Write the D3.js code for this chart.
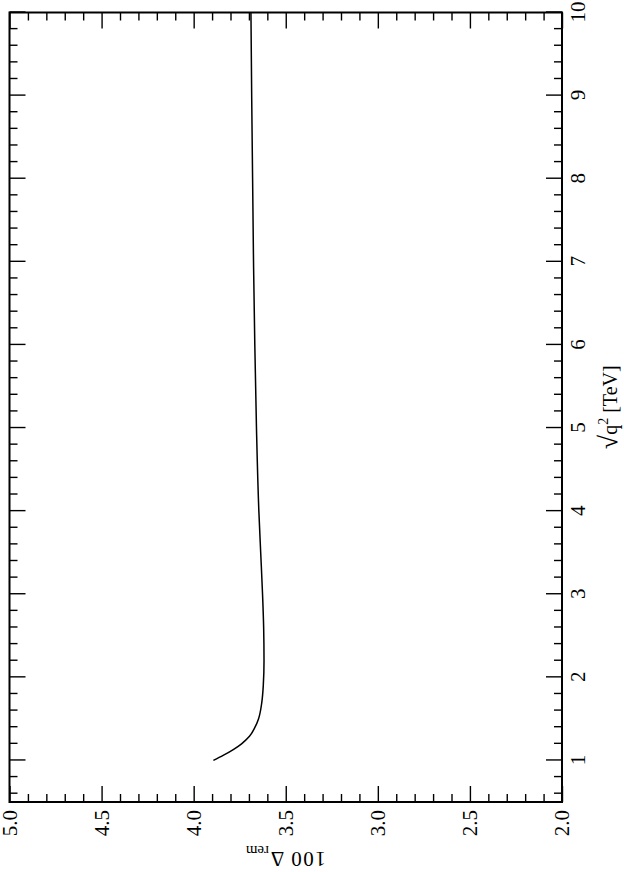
<!DOCTYPE html>
<html>
<head>
<meta charset="utf-8">
<script src="https://cdn.jsdelivr.net/npm/d3@7"></script>
<style>
  body { margin: 0; background: white; }
  text { font-family: "Liberation Serif", "DejaVu Serif", serif; }
</style>
</head>
<body>
<div id="chart-area"></div>
<script>
// Data: sqrt(q^2) in TeV and 100*Delta_rem
const sqrtQ2 = [1.0, 1.06, 1.13, 1.2, 1.29, 1.4, 1.5, 1.7, 1.9, 2.2, 2.6, 3.0, 3.5, 4.0, 5.0, 6.0, 7.0, 8.0, 9.0, 10.0];
const deltaRem = [3.893, 3.84, 3.785, 3.74, 3.697, 3.667, 3.648, 3.630, 3.622, 3.618, 3.620, 3.626, 3.636, 3.646, 3.659, 3.668, 3.675, 3.680, 3.685, 3.689];

// Tick values
const xMajor = [1, 2, 3, 4, 5, 6, 7, 8, 9, 10];
const xMinor = [0.6, 0.8, 1.2, 1.4, 1.6, 1.8, 2.2, 2.4, 2.6, 2.8, 3.2, 3.4, 3.6, 3.8, 4.2, 4.4, 4.6, 4.8,
  5.2, 5.4, 5.6, 5.8, 6.2, 6.4, 6.6, 6.8, 7.2, 7.4, 7.6, 7.8, 8.2, 8.4, 8.6, 8.8, 9.2, 9.4, 9.6, 9.8];
const yMajor = [2.0, 2.5, 3.0, 3.5, 4.0, 4.5, 5.0];
const yMinor = [2.1, 2.2, 2.3, 2.4, 2.6, 2.7, 2.8, 2.9, 3.1, 3.2, 3.3, 3.4, 3.6, 3.7, 3.8, 3.9,
  4.1, 4.2, 4.3, 4.4, 4.6, 4.7, 4.8, 4.9];

// Page size
const pageW = 624;
const pageH = 872;

// The plot is drawn landscape and then turned by -90 degrees
const W = 789.5;   // length of the sqrt(q^2) axis
const H = 552.5;   // length of the Delta axis

const svg = d3.select("#chart-area")
  .append("svg")
  .attr("width", pageW)
  .attr("height", pageH);

svg.append("rect")
  .attr("width", "100%")
  .attr("height", "100%")
  .attr("fill", "white");

const g = svg.append("g")
  .attr("transform", "translate(9.5,802) rotate(-90)");

// Scales
const x = d3.scaleLinear().domain([0.5, 10]).range([0, W]);
const y = d3.scaleLinear().domain([2, 5]).range([H, 0]);

// Helper to add one axis
function addAxis(axis, tx, ty) {
  const a = g.append("g")
    .attr("transform", "translate(" + tx + "," + ty + ")")
    .call(axis);
  a.attr("font-family", null);
  a.select(".domain").remove();
  a.selectAll("line").attr("stroke", "black").attr("stroke-width", 1.4);
  a.selectAll("text")
    .style("font-size", "21px")
    .attr("fill", "black");
  return a;
}

// sqrt(q^2) axis (bottom in the landscape frame) + mirror
addAxis(d3.axisBottom(x).tickValues(xMajor).tickFormat(d3.format("d")).tickSize(-16).tickPadding(8), 0, H);
addAxis(d3.axisBottom(x).tickValues(xMinor).tickFormat("").tickSize(-8), 0, H);
addAxis(d3.axisTop(x).tickValues(xMajor).tickFormat("").tickSize(-16), 0, 0);
addAxis(d3.axisTop(x).tickValues(xMinor).tickFormat("").tickSize(-8), 0, 0);

// Delta axis (left in the landscape frame) + mirror
addAxis(d3.axisLeft(y).tickValues(yMajor).tickFormat(d3.format(".1f")).tickSize(-16).tickPadding(8), 0, 0);
addAxis(d3.axisLeft(y).tickValues(yMinor).tickFormat("").tickSize(-8), 0, 0);
addAxis(d3.axisRight(y).tickValues(yMajor).tickFormat("").tickSize(-16), W, 0);
addAxis(d3.axisRight(y).tickValues(yMinor).tickFormat("").tickSize(-8), W, 0);

// Frame
g.append("rect")
  .attr("width", W)
  .attr("height", H)
  .attr("fill", "none")
  .attr("stroke", "black")
  .attr("stroke-width", 2);

// Curve
const points = sqrtQ2.map((s, i) => [s, deltaRem[i]]);
const line = d3.line()
  .x(d => x(d[0]))
  .y(d => y(d[1]))
  .curve(d3.curveMonotoneX);

g.append("path")
  .datum(points)
  .attr("d", line)
  .attr("fill", "none")
  .attr("stroke", "black")
  .attr("stroke-width", 1.5);

// X axis label
const xLabel = g.append("text")
  .attr("x", W / 2)
  .attr("y", H + 55)
  .attr("text-anchor", "middle")
  .style("font-size", "20px")
  .attr("fill", "black");
xLabel.append("tspan").style("font-size", "26px").attr("font-weight", "bold").text("√");
xLabel.append("tspan").text("q");
xLabel.append("tspan").style("font-size", "14px").attr("dy", -9).text("2");
xLabel.append("tspan").attr("dy", 9).text(" [TeV]");

// Y axis label
const yLabel = g.append("text")
  .attr("transform", "rotate(-90)")
  .attr("x", -H / 2)
  .attr("y", -50)
  .attr("text-anchor", "middle")
  .style("font-size", "21px")
  .style("letter-spacing", "1.5px")
  .attr("fill", "black");
yLabel.append("tspan").text("100 Δ");
yLabel.append("tspan").style("font-size", "15px").style("letter-spacing", "0px").attr("dy", 6).text("rem");
</script>
</body>
</html>
